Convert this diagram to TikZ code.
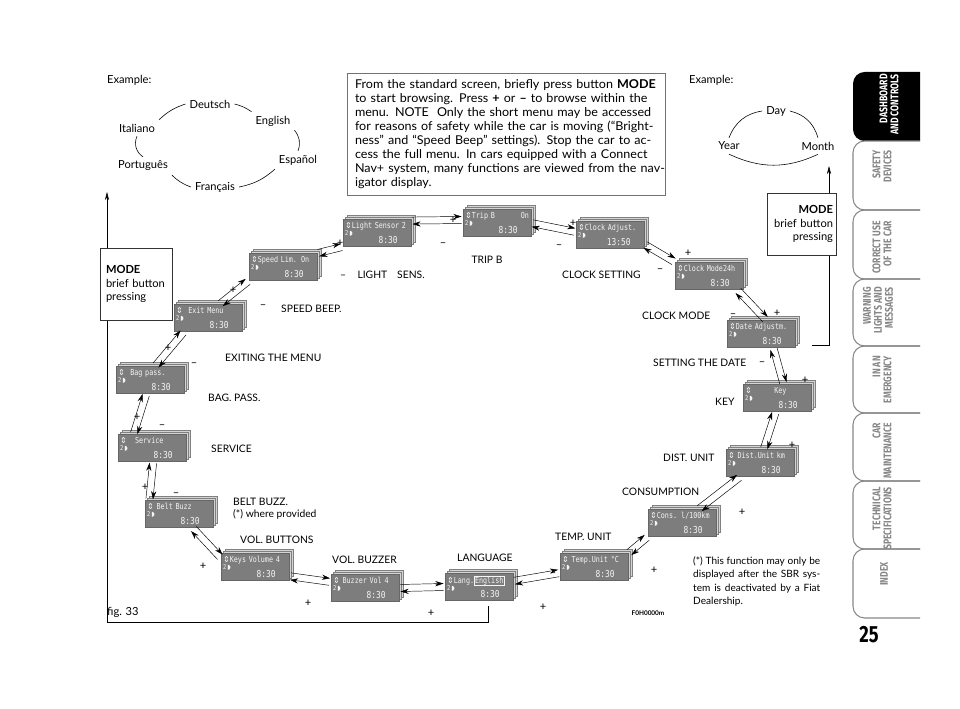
\documentclass[tikz,border=0pt]{standalone}
\usepackage{fontspec}
\setmainfont{Lato}
\newfontfamily\bodyfont[FakeStretch=1.03]{Lato}
\newfontfamily\lcdfont[FakeStretch=0.82]{DejaVu Sans Mono}
\newfontfamily\symfont{DejaVu Sans}
\newfontfamily\tabfont[FakeStretch=0.78]{Fira Sans}
\usetikzlibrary{
    positioning,
    arrows.meta,
    shadows,
    calc
}
\definecolor{lcdgray}{RGB}{125,125,125}
\definecolor{layergray}{RGB}{212,212,212}
\definecolor{tabgray}{RGB}{135,135,135}
\tikzset{
    >=Stealth,
    lcd/.style={
        fill=lcdgray, draw=black!60, line width=0.3pt,
        minimum width=20.4mm, minimum height=8.2mm,
        text width=19.2mm, inner xsep=0.6mm, inner ysep=0.2mm,
        align=left, text=white!92!gray,
        font=\lcdfont\fontsize{7}{7}\selectfont,
        copy shadow={shadow xshift=1.3mm, shadow yshift=1.3mm,
            fill=layergray, draw=black!50, line width=0.3pt},
        copy shadow={shadow xshift=0.65mm, shadow yshift=0.65mm,
            fill=layergray, draw=black!50, line width=0.3pt}
    },
    navarr/.style={
        -{Stealth[length=7pt, width=4.4pt]},
        line width=0.4pt,
        shorten <=1pt, shorten >=1pt
    },
    lbl/.style={font=\fontsize{8.8}{10.2}\selectfont, inner sep=0pt},
    pm/.style={font=\fontsize{9.5}{10}\selectfont, inner sep=0pt},
    cyc/.style={line width=0.5pt},
    modebox/.style={
        draw=black!80, fill=white, line width=0.5pt,
        font=\fontsize{9.5}{11.5}\selectfont
    },
    modeline/.style={
        line width=0.5pt,
        -{Stealth[length=7pt, width=3.6pt]}
    },
    tabline/.style={draw=tabgray, line width=0.9pt, rounded corners=3.5mm},
    tabtext/.style={
        rotate=90, anchor=east, align=right, inner sep=0pt,
        text=tabgray,
        font=\tabfont\bfseries\fontsize{9.5}{9.4}\selectfont
    }
}
\newcommand\lcdtext[2]{{\symfont ⇕}#1\\[-0.8pt]{\fontsize{5.6}{5.6}\selectfont 2\,{\symfont ◗}}\\[-0.6pt]\hfill{\fontsize{8.2}{8.2}\selectfont #2}\hspace*{3.4mm}}
\newcommand\navpair[2]{%
    \draw[navarr] ($(#1)!3pt!90:(#2)$) -- ($(#2)!3pt!-90:(#1)$);
    \draw[navarr] ($(#2)!3pt!90:(#1)$) -- ($(#1)!3pt!-90:(#2)$);
}
\newcommand\fullline[1]{\makebox[\hsize][s]{#1}}

\begin{document}
\begin{tikzpicture}[x=0.3mm, y=-0.3mm]

    \useasboundingbox (0,0) rectangle (960,709);

    % Ejemplo de idiomas
    \node[anchor=west, font=\fontsize{9.5}{11}\selectfont] (exL) at (103,80) {Example:};
    \node[font=\fontsize{9.5}{11}\selectfont] (deu) at (210,104) {Deutsch};
    \node[font=\fontsize{9.5}{11}\selectfont] (eng) at (273,121) {English};
    \node[font=\fontsize{9.5}{11}\selectfont] (esp) at (298,160) {Español};
    \node[font=\fontsize{9.5}{11}\selectfont] (fra) at (215,187) {Français};
    \node[font=\fontsize{9.5}{11}\selectfont] (por) at (143,166) {Português};
    \node[font=\fontsize{9.5}{11}\selectfont] (ita) at (137,128) {Italiano};

    \draw[cyc] (deu.east) to[bend left=10] (eng.north west);
    \draw[cyc] (eng.south east) to[bend left=30] (esp.north);
    \draw[cyc] (esp.south west) to[bend left=15] (fra.east);
    \draw[cyc] (fra.west) to[bend left=12] (por.south east);
    \draw[cyc] (por.north) to[bend left=40] (ita.south);
    \draw[cyc] (ita.north east) to[bend left=12] (deu.west);

    % Ejemplo de fecha
    \node[anchor=west, font=\fontsize{9.5}{11}\selectfont] (exR) at (685,80) {Example:};
    \node[font=\fontsize{9.5}{11}\selectfont] (day)   at (776,111) {Day};
    \node[font=\fontsize{9.5}{11}\selectfont] (year)  at (729,146) {Year};
    \node[font=\fontsize{9.5}{11}\selectfont] (month) at (818,146) {Month};

    \draw[cyc] (day.west) to[bend right=30] (year.north);
    \draw[cyc] (day.east) to[bend left=30] (month.north);
    \draw[cyc] (year.south) to[bend right=25] (month.south);

    % Texto central
    \node[draw=black!55, line width=0.8pt, text width=90.6mm, inner xsep=2.4mm,
          minimum height=36.6mm, align=left,
          font=\bodyfont\fontsize{10.4}{11.9}\selectfont] (info) at (506,134)
        {\fullline{From the standard screen, briefly press button \textbf{MODE}}\\
         \fullline{to start browsing. Press \textbf{+} or \textbf{–} to browse within the}\\
         \fullline{menu. NOTE\ \ Only the short menu may be accessed}\\
         \fullline{for reasons of safety while the car is moving (“Bright-}\\
         \fullline{ness” and “Speed Beep” settings). Stop the car to ac-}\\
         \fullline{cess the full menu. In cars equipped with a Connect}\\
         \fullline{Nav+ system, many functions are viewed from the nav-}\\
         igator display.};

    % Lineas de MODE
    \coordinate (botL) at (488,606);
    \coordinate (topL) at (107,192);
    \coordinate (datR) at (812,345);
    \coordinate (topR) at (829,166);

    \draw[modeline] (botL) -- ++(0,16) -| (topL);
    \draw[modeline] (datR) -| (topR);

    \node[modebox, minimum width=21.6mm, minimum height=21.6mm,
          text width=18mm, align=left] (modeL) at (136,284)
        {\textbf{MODE}\\brief button\\pressing};
    \node[modebox, minimum width=20.7mm, minimum height=18.6mm,
          inner xsep=0.9mm, text width=18.9mm, align=right] (modeR) at (801.5,224)
        {\textbf{MODE}\\brief button\\pressing};

    % Pantallas
    \node[lcd] (spd) at (283,267) {\lcdtext{Speed Lim. On}{8:30}};
    \node[lcd] (lgt) at (377,233) {\lcdtext{Light Sensor 2}{8:30}};
    \node[lcd] (trp) at (497,223) {\lcdtext{Trip B\hfill On}{8:30}};
    \node[lcd] (clk) at (610,235) {\lcdtext{Clock Adjust.}{13:50}};
    \node[lcd] (cmd) at (709,276) {\lcdtext{Clock Mode24h}{8:30}};
    \node[lcd] (dat) at (761,334) {\lcdtext{Date Adjustm.}{8:30}};
    \node[lcd] (key) at (777,398) {\lcdtext{\hfill Key\hfill\mbox{}}{8:30}};
    \node[lcd] (dst) at (760,463) {\lcdtext{~Dist.Unit km}{8:30}};
    \node[lcd] (con) at (682,523) {\lcdtext{Cons. l/100km}{8:30}};
    \node[lcd] (tmp) at (594,567) {\lcdtext{~Temp.Unit °C}{8:30}};
    \node[lcd] (lng) at (479,587) {\lcdtext{Lang.{\fboxsep=0.4pt\fbox{English}}}{8:30}};
    \node[lcd] (buz) at (365,588) {\lcdtext{~Buzzer Vol 4}{8:30}};
    \node[lcd] (kvl) at (255,567) {\lcdtext{Keys Volume 4}{8:30}};
    \node[lcd] (blt) at (179,514) {\lcdtext{~Belt Buzz}{8:30}};
    \node[lcd] (srv) at (152,448) {\lcdtext{~~~Service}{8:30}};
    \node[lcd] (bag) at (150,380) {\lcdtext{~~Bag pass.}{8:30}};
    \node[lcd] (ext) at (208,318) {\lcdtext{~~Exit Menu}{8:30}};

    % Transiciones
    \navpair{spd.north east}{lgt.south west}
    \navpair{lgt.20}{trp.175}
    \navpair{trp.east}{clk.175}
    \navpair{clk.-15}{cmd.north west}
    \navpair{cmd.-26}{dat.70}
    \navpair{dat.-48}{key.65}
    \navpair{key.-95}{dst.75}
    \navpair{dst.-145}{con.40}
    \navpair{con.south west}{tmp.north east}
    \navpair{tmp.190}{lng.10}
    \navpair{lng.west}{buz.east}
    \navpair{buz.170}{kvl.-15}
    \navpair{kvl.165}{blt.-45}
    \navpair{blt.155}{srv.-85}
    \navpair{srv.143}{bag.-105}
    \navpair{bag.70}{ext.-150}
    \navpair{ext.50}{spd.south west}

    % Nombres de las funciones
    \node[lbl, anchor=west] (lLight) at (340,275) {–\hspace{3.4mm}LIGHT\hspace{3mm}SENS.};
    \node[lbl]              (lTrip)  at (487,260) {TRIP B};
    \node[lbl, anchor=west] (lClkS)  at (562,275) {CLOCK SETTING};
    \node[lbl, anchor=west] (lClkM)  at (642,316) {CLOCK MODE};
    \node[lbl, anchor=west] (lDate)  at (653,363) {SETTING THE DATE};
    \node[lbl, anchor=west] (lKey)   at (715,402) {KEY};
    \node[lbl, anchor=west] (lDist)  at (663,458) {DIST. UNIT};
    \node[lbl, anchor=west] (lCons)  at (622,492) {CONSUMPTION};
    \node[lbl, anchor=west] (lTemp)  at (555,537) {TEMP. UNIT};
    \node[lbl, anchor=west] (lLang)  at (457,558) {LANGUAGE};
    \node[lbl, anchor=west] (lBuzz)  at (332,560) {VOL. BUZZER};
    \node[lbl, anchor=west] (lKeys)  at (240,540) {VOL. BUTTONS};
    \node[lbl, anchor=west, align=left] (lBelt) at (233,509) {BELT BUZZ.\\(*) where provided};
    \node[lbl, anchor=west] (lSrv)   at (211,449) {SERVICE};
    \node[lbl, anchor=west] (lBag)   at (208,398) {BAG. PASS.};
    \node[lbl, anchor=west] (lExit)  at (225,358) {EXITING THE MENU};
    \node[lbl, anchor=west] (lSpeed) at (281,309) {SPEED BEEP.};

    % Signos
    \node[pm] (p1)  at (340,243) {+};
    \node[pm] (p2)  at (453,220) {+};
    \node[pm] (p3)  at (573,223) {+};
    \node[pm] (p4)  at (688,253) {+};
    \node[pm] (p5)  at (777,313) {+};
    \node[pm] (p6)  at (805,380) {+};
    \node[pm] (p7)  at (792,445) {+};
    \node[pm] (p8)  at (742,512) {+};
    \node[pm] (p9)  at (654,570) {+};
    \node[pm] (p10) at (543,607) {+};
    \node[pm] (p11) at (431,613) {+};
    \node[pm] (p12) at (308,603) {+};
    \node[pm] (p13) at (203,566) {+};
    \node[pm] (p14) at (145,487) {+};
    \node[pm] (p15) at (137,417) {+};
    \node[pm] (p16) at (168,348) {+};
    \node[pm] (p17) at (233,290) {+};

    \node[pm] (m1)  at (443,245) {–};
    \node[pm] (m2)  at (559,247) {–};
    \node[pm] (m3)  at (660,271) {–};
    \node[pm] (m4)  at (733,316) {–};
    \node[pm] (m5)  at (762,364) {–};
    \node[pm] (m6)  at (553,575) {–};
    \node[pm] (m7)  at (438,587) {–};
    \node[pm] (m8)  at (176,495) {–};
    \node[pm] (m9)  at (162,427) {–};
    \node[pm] (m10) at (194,365) {–};
    \node[pm] (m11) at (263,307) {–};

    % Notas
    \node[anchor=west, font=\fontsize{9.5}{11}\selectfont] (fig) at (103,612) {fig. 33};
    \node[font=\bfseries\fontsize{5.5}{6}\selectfont] (code) at (648,613) {F0H0000m};
    \node[anchor=north west, text width=38.1mm, inner sep=0pt, align=justify,
          font=\fontsize{8.6}{11.6}\selectfont] (note) at (693,556)
        {(*) This function may only be\linebreak
         displayed after the SBR sys-\linebreak
         tem is deactivated by a Fiat\linebreak
         Dealership.};

    % Pestañas
    \begin{scope}[rounded corners=3.5mm]
        \fill (920,72) -- (853,72) -- (853,141) -- (920,141);
    \end{scope}
    \draw[tabline] (920,141) -- (853,141) -- (853,210) -- (920,210);
    \draw[tabline] (920,210) -- (853,210) -- (853,279) -- (920,279);
    \draw[tabline] (920,279) -- (853,279) -- (853,346) -- (920,346);
    \draw[tabline] (920,346) -- (853,346) -- (853,413) -- (920,413);
    \draw[tabline] (920,413) -- (853,413) -- (853,481) -- (920,481);
    \draw[tabline] (920,481) -- (853,481) -- (853,549) -- (920,549);
    \draw[tabline] (920,549) -- (853,549) -- (853,618) -- (920,618);

    \node[tabtext, text=white] (tDash) at (889,74)  {DASHBOARD\\AND CONTROLS};
    \node[tabtext] (tSafe) at (882,150) {SAFETY\\DEVICES};
    \node[tabtext] (tUse)  at (882,221) {CORRECT USE\\OF THE CAR};
    \node[tabtext] (tWarn) at (878,287) {WARNING\\LIGHTS AND\\MESSAGES};
    \node[tabtext] (tEmer) at (882,356) {IN AN\\EMERGENCY};
    \node[tabtext] (tMain) at (882,423) {CAR\\MAINTENANCE};
    \node[tabtext] (tTech) at (882,487) {TECHNICAL\\SPECIFICATIONS};
    \node[tabtext] (tIdx)  at (884,562) {INDEX};

    \node[font=\tabfont\bfseries\fontsize{20}{20}\selectfont] (page) at (869,635) {25};

\end{tikzpicture}
\end{document}
